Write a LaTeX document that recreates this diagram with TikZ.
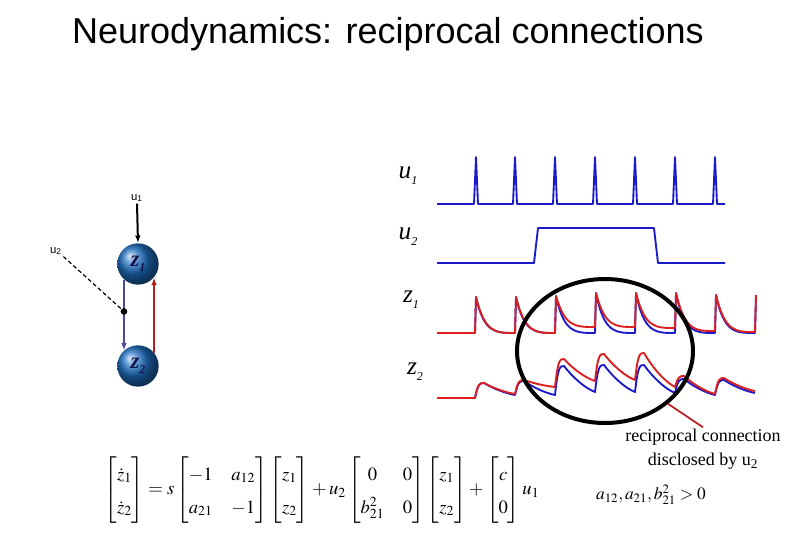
\documentclass[tikz,border=0pt]{standalone}
\usepackage{amsmath}
\usepackage{mathptmx}
\usepackage{fontspec}
\setmainfont{Liberation Serif}
\newfontfamily\arialfont{Liberation Sans}
\usepackage{tikz}
\usetikzlibrary{arrows.meta,positioning,calc,shapes.geometric}
\definecolor{TraceBlue}{HTML}{1A1AC8}
\definecolor{TraceRed}{HTML}{DC1E1E}
\definecolor{LinkBlue}{HTML}{4A4A9A}
\definecolor{LinkRed}{HTML}{B41E1E}
\definecolor{BallBlue}{HTML}{1E6EC0}
\definecolor{Navy}{HTML}{141450}
\newcommand{\sublab}[2]{\textit{#1}\raisebox{-0.5ex}{\textit{\small #2}}}

\begin{document}
\begin{tikzpicture}[
  x=0.75pt,y=-0.75pt,
  every node/.style={inner sep=1pt},
  neuron/.style={circle,minimum size=31pt,shading=ball,ball color=BallBlue,text=Navy,font=\fontsize{17}{19}\selectfont\bfseries},
  inlab/.style={font=\arialfont\fontsize{8.5}{10}\selectfont},
  trlab/.style={font=\fontsize{19}{22}\selectfont},
  inarr/.style={-{Latex[length=2mm]},line width=1.5pt},
  fwd/.style={-{Latex[length=2mm]},line width=1.2pt,color=LinkBlue},
  bwd/.style={-{Latex[length=2mm]},line width=1.2pt,color=LinkRed},
  modln/.style={densely dashed,line width=0.9pt},
  jdot/.style={circle,fill,inner sep=0pt,minimum size=5pt},
  tr/.style={line width=1.4pt,line join=round}
]
\useasboundingbox (0,0) rectangle (810,540);

\node[font=\arialfont\fontsize{27}{32}\selectfont] (title) at (388,34) {Neurodynamics: reciprocal connections};

% the two units
\node[neuron] (z1) at (138,264) {\sublab{z}{1}};
\node[neuron] (z2) at (138,366) {\sublab{z}{2}};
\node[inlab] (u1in) at (137,198) {u\textsubscript{1}};
\node[inlab] (u2in) at (56,251) {u\textsubscript{2}};
\draw[inarr] (u1in.south) -- (z1.north);
\draw[fwd] (z1.228) -- (z2.132);
\draw[bwd] (z2.40) -- (z1.320);
\node[jdot] (jn) at ($(z1.228)!0.45!(z2.132)$) {};
\draw[modln] (u2in.south east) -- (jn);

% trace labels
\node[trlab] (lu1) at (408,176) {\sublab{u}{1}};
\node[trlab] (lu2) at (408,237) {\sublab{u}{2}};
\node[trlab] (lz1) at (411,300) {\sublab{z}{1}};
\node[trlab] (lz2) at (415,372) {\sublab{z}{2}};

% input traces
\draw[tr,TraceBlue] (437,204) foreach \s in {476,515,555,595,635,675,715} { -- ({\s-2},204) -- (\s,157) -- ({\s+2},204) } -- (725,204);
\draw[tr,TraceBlue] (437,263) -- (534,263) -- (538,228) -- (654,228) -- (658,263) -- (725,263);

% z1 traces
\draw[tr,TraceBlue] (437,333) -- (475,333) foreach \s/\p/\m in {475/297/333,515/297/333,555/296/333,595/293/333,635/293/333,675/293/333,715/295/333} { -- ({\s+1},\p) .. controls ({\s+9},\m) and ({\s+20},\m) .. ({\s+40},\m) } -- (756,295);
\draw[tr,TraceRed] (437,333) -- (475,333) foreach \s/\p/\m in {475/297/333,515/297/333,555/296/327,595/293/327,635/293/328,675/293/331,715/295/332} { -- ({\s+1},\p) .. controls ({\s+10},\m) and ({\s+20},\m) .. ({\s+40},\m) } -- (756,295);

% z2 traces
\draw[tr,TraceBlue] (437,398) -- (475,398) foreach \s/\p/\m in {475/383/395,515/381/395,555/366/392,595/365/392,635/365/393,675/379/395,715/380/393} { .. controls ({\s+3},\p) and ({\s+5},\p) .. ({\s+9},\p) .. controls ({\s+18},{\p+0.45*(\m-\p)}) and ({\s+30},{\p+0.85*(\m-\p)}) .. ({\s+40},\m) };
\draw[tr,TraceRed] (437,398) -- (475,398) foreach \s/\p/\m in {475/383/394,515/380/387,555/359/381,595/354/380,635/353/387,675/376/394,715/378/391} { .. controls ({\s+3},\p) and ({\s+5},\p) .. ({\s+9},\p) .. controls ({\s+18},{\p+0.45*(\m-\p)}) and ({\s+30},{\p+0.85*(\m-\p)}) .. ({\s+40},\m) };

% highlighted interval
\node[ellipse,draw,line width=3pt,minimum width=132pt,minimum height=108pt] (ring) at (605,351) {};
\node[align=center,font=\fontsize{13.5}{18}\selectfont] (note) at (703,449) {reciprocal connection\\disclosed by u\textsubscript{2}};
\draw[line width=1.3pt,LinkRed] (ring.-40) -- (note.north);
\node[font=\fontsize{13}{15}\selectfont] (cond) at (651,495) {$a_{12},a_{21},b_{21}^2>0$};

% model equation
\node[font=\fontsize{14}{17}\selectfont] (eqn) at (322,490) {\renewcommand{\arraystretch}{1.45}\setlength{\arraycolsep}{7pt}$\begin{bmatrix}\dot z_1\\ \dot z_2\end{bmatrix}=s\begin{bmatrix}-1 & a_{12}\\ a_{21} & -1\end{bmatrix}\begin{bmatrix}z_1\\ z_2\end{bmatrix}+u_2\begin{bmatrix}0 & 0\\ b_{21}^2 & 0\end{bmatrix}\begin{bmatrix}z_1\\ z_2\end{bmatrix}+\begin{bmatrix}c\\ 0\end{bmatrix}u_1$};
\end{tikzpicture}
\end{document}
